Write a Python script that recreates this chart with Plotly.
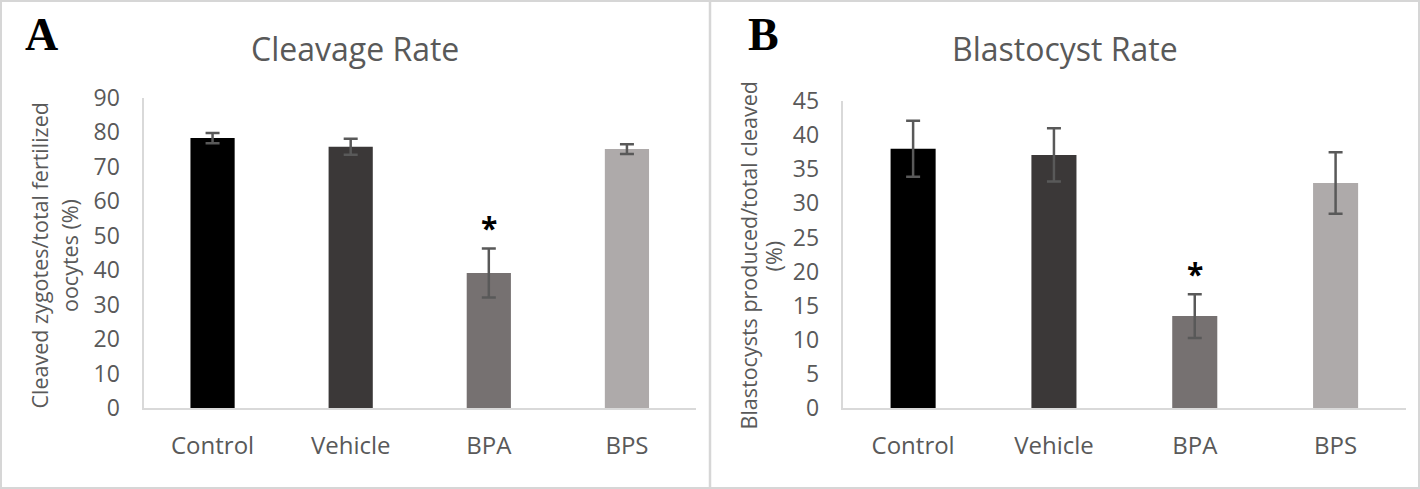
import plotly.graph_objects as go

# ---------------- data ----------------
categories = ["Control", "Vehicle", "BPA", "BPS"]
cleavage_rate = [78.3, 75.8, 39.2, 75.1]
cleavage_err = [1.5, 2.3, 7.1, 1.4]
blastocyst_rate = [38.0, 37.1, 13.5, 33.0]
blastocyst_err = [4.1, 3.9, 3.2, 4.5]
bar_colors = ["#000000", "#3B3838", "#767171", "#AEAAAA"]
cleavage_ticks = [0, 10, 20, 30, 40, 50, 60, 70, 80, 90]
blastocyst_ticks = [0, 5, 10, 15, 20, 25, 30, 35, 40, 45]
sig_group = "BPA"
sig_cleavage_y = 54.0
sig_blastocyst_y = 20.4

W, H = 1420, 489
FONT = "Open Sans"
TXT = "#595959"
AXC = "#D9D9D9"


def px(x):
    return x / W


def py(y):
    return 1 - y / H


fig = go.Figure()

fig.add_trace(go.Bar(
    x=categories, y=cleavage_rate, marker=dict(color=bar_colors, line=dict(width=0)),
    error_y=dict(type="data", array=cleavage_err, color="#595959", thickness=2.5, width=7),
    xaxis="x", yaxis="y", showlegend=False,
))
fig.add_trace(go.Bar(
    x=categories, y=blastocyst_rate, marker=dict(color=bar_colors, line=dict(width=0)),
    error_y=dict(type="data", array=blastocyst_err, color="#595959", thickness=2.5, width=7),
    xaxis="x2", yaxis="y2", showlegend=False,
))

xcommon = dict(type="category", categoryorder="array", categoryarray=categories,
               showline=True, linecolor=AXC, linewidth=1.5, showgrid=False, zeroline=False,
               ticks="", tickfont=dict(family=FONT, size=24, color=TXT),
               ticklabelstandoff=15, fixedrange=True, automargin=False)
ycommon = dict(showline=True, linecolor=AXC, linewidth=2, showgrid=False, zeroline=False,
               ticks="", tickfont=dict(family=FONT, size=23, color=TXT),
               ticklabelstandoff=17, fixedrange=True, automargin=False)

fig.update_layout(
    width=W, height=H,
    margin=dict(l=0, r=0, t=0, b=0, pad=0, autoexpand=False),
    paper_bgcolor="white", plot_bgcolor="white",
    bargap=0.68,
    xaxis=dict(xcommon, domain=[px(143.5), px(696)], anchor="y"),
    yaxis=dict(ycommon, domain=[py(408.3), py(97.7)], anchor="x", range=[0, 90],
               tickvals=cleavage_ticks),
    xaxis2=dict(xcommon, domain=[px(842.7), px(1406)], anchor="y2"),
    yaxis2=dict(ycommon, domain=[py(408.3), py(101)], anchor="x2", range=[0, 45],
                tickvals=blastocyst_ticks),
)

ann = []
# panel titles
ann.append(dict(text="Cleavage Rate", x=px(354.5), y=py(49), xref="paper", yref="paper",
                showarrow=False, xanchor="center", yanchor="middle",
                font=dict(family=FONT, size=32, color=TXT)))
ann.append(dict(text="Blastocyst Rate", x=px(1064.5), y=py(49), xref="paper", yref="paper",
                showarrow=False, xanchor="center", yanchor="middle",
                font=dict(family=FONT, size=32, color=TXT)))
# panel letters
ann.append(dict(text="<b>A</b>", x=px(23), y=py(35), xref="paper", yref="paper",
                showarrow=False, xanchor="left", yanchor="middle",
                font=dict(family="Liberation Serif", size=46, color="black")))
ann.append(dict(text="<b>B</b>", x=px(746), y=py(35), xref="paper", yref="paper",
                showarrow=False, xanchor="left", yanchor="middle",
                font=dict(family="Liberation Serif", size=46, color="black")))
# y-axis titles (two lines each)
for text, xc in [("Cleaved zygotes/total fertilized", 38.5), ("oocytes (%)", 69),
                 ("Blastocysts produced/total cleaved", 747.5), ("(%)", 773.4)]:
    ann.append(dict(text=text, x=px(xc), y=py(256), xref="paper", yref="paper",
                    showarrow=False, xanchor="center", yanchor="middle", textangle=-90,
                    font=dict(family=FONT, size=21.5, color=TXT)))
# significance asterisks
ann.append(dict(text="<b>*</b>", x=sig_group, y=sig_cleavage_y, xref="x", yref="y",
                showarrow=False, yanchor="middle", yshift=-6,
                font=dict(family=FONT, size=30, color="black")))
ann.append(dict(text="<b>*</b>", x=sig_group, y=sig_blastocyst_y, xref="x2", yref="y2",
                showarrow=False, yanchor="middle", yshift=-5,
                font=dict(family=FONT, size=30, color="black")))
fig.update_layout(annotations=ann)

# panel borders
shapes = [
    dict(type="rect", xref="paper", yref="paper", x0=px(1), x1=px(1419), y0=py(488), y1=py(1),
         line=dict(color="#D6D6D6", width=2)),
    dict(type="line", xref="paper", yref="paper", x0=px(710), x1=px(710), y0=py(488), y1=py(1),
         line=dict(color="#D6D6D6", width=2.5)),
]
fig.update_layout(shapes=shapes)

pin_js = (
    "document.body.style.margin='0';document.body.style.overflow='hidden';"
    "var d=document.getElementById('{plot_id}');"
    "d.style.position='fixed';d.style.top='0px';d.style.left='0px';"
)
fig.write_html("out.html", post_script=pin_js, config={"displayModeBar": False})
